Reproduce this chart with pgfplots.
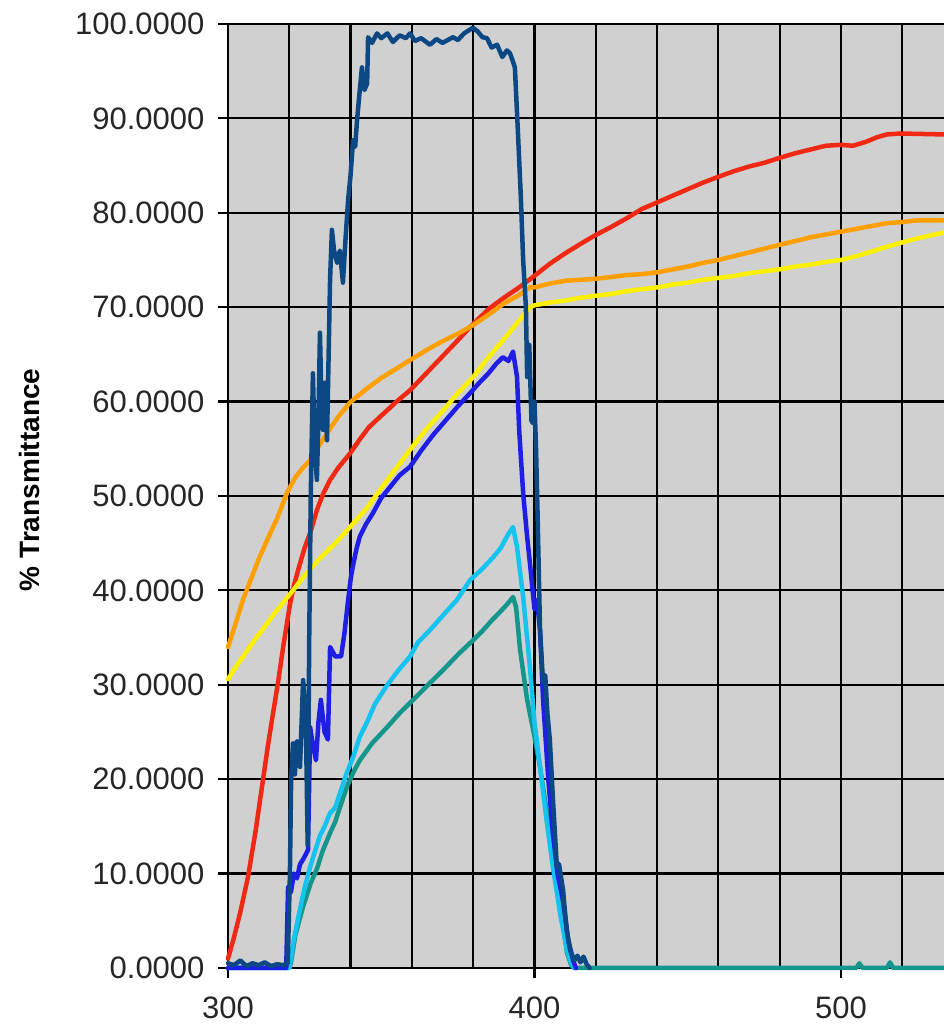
\documentclass[border=0pt]{standalone}
\usepackage{pgfplots}
\pgfplotsset{compat=1.18}
\usepackage{fontspec}
\setmainfont{Liberation Sans}
\definecolor{navy}{RGB}{12,72,132}
\definecolor{mblue}{RGB}{30,30,230}
\definecolor{cyanc}{RGB}{20,195,240}
\definecolor{tealc}{RGB}{20,150,140}
\definecolor{redc}{RGB}{240,40,20}
\definecolor{orangec}{RGB}{255,160,0}
\definecolor{yellowc}{RGB}{250,240,0}
\definecolor{bggray}{RGB}{208,208,208}
\begin{document}
\begin{tikzpicture}[x=1pt,y=1pt]
\useasboundingbox (0,0) rectangle (943,1028);
\begin{axis}[
  at={(228pt,60pt)}, anchor=south west,
  scale only axis, width=717.2pt, height=944pt,
  xmin=300, xmax=534, ymin=0, ymax=100,
  clip=false,
  axis background/.style={fill=bggray},
  axis line style={black, line width=2.2pt},
  xtick={300,400,500},
  minor xtick={320,340,360,380,420,440,460,480,520},
  ytick={0,10,...,100},
  xmajorgrids, xminorgrids, ymajorgrids,
  grid style={black, line width=2.2pt},
  minor grid style={black, line width=2.2pt},
  tick align=outside,
  major tick length=10pt, minor tick length=0pt,
  tick style={black, line width=2.2pt},
  xtick pos=bottom, ytick pos=left,
  /pgf/number format/assume math mode=true,
  tick label style={font=\fontsize{31}{31}\selectfont, text=black!85},
  yticklabel style={/pgf/number format/.cd, fixed, fixed zerofill, precision=4, 1000 sep={}, /tikz/.cd, xshift=-10pt},
  xticklabel style={/pgf/number format/.cd, fixed, 1000 sep={}, /tikz/.cd, inner sep=0pt, yshift=-19pt},
  ylabel={\% Transmittance},
  ylabel style={font=\bfseries\fontsize{28}{28}\selectfont, at={(axis description cs:-0.277,0.517)}, anchor=center, rotate=0},
  every axis plot post/.append style={line width=4.5pt, line join=round, line cap=round},
]
% red
\addplot[redc] coordinates {(300,1) (302,3.3) (304,5.9) (306.5,9.6) (309,14.5) (311.4,19.9) (313,23.5) (314.7,27) (316.3,30.2) (318,34) (320.2,38.5) (321.5,40.5) (323,42.3) (325,44.5) (326.8,46.1) (329,48.5) (331,50.2) (333.3,51.7) (336,53) (339.8,54.5) (343,56) (346,57.3) (350,58.5) (355,60) (359.4,61.2) (365,63.1) (370,64.8) (375,66.5) (379,67.9) (385,69.8) (390,71) (395,72.1) (399.5,73.2) (405,74.6) (410,75.7) (415,76.7) (419.7,77.6) (425,78.5) (430,79.4) (435,80.4) (440,81.1) (445,81.8) (450,82.5) (455,83.2) (459.9,83.8) (465,84.4) (470,84.9) (475,85.3) (479.8,85.8) (485,86.3) (490,86.7) (495,87.1) (500,87.2) (503.9,87.1) (508,87.5) (511.7,88.0) (515,88.3) (519.2,88.4) (533.5,88.3)};
% orange
\addplot[orangec] coordinates {(300,34) (302,36) (304.9,39) (307.5,41.2) (310,43.3) (313,45.5) (316,47.6) (319.2,50.3) (322,52) (324.5,53) (326.8,53.8) (330,55.5) (333,57) (336,58.4) (339.8,59.9) (345,61.3) (350,62.5) (355,63.5) (359.4,64.4) (365,65.5) (370,66.4) (375,67.2) (379,67.9) (385,69.2) (390,70.4) (395,71.3) (398.5,72.1) (400,72.1) (405,72.5) (410,72.8) (415,72.9) (419.7,73.0) (425,73.2) (430,73.4) (435,73.5) (440,73.7) (445,74) (450,74.3) (455,74.7) (459.9,75.0) (465,75.4) (470,75.8) (475,76.2) (479.8,76.6) (485,77) (490,77.4) (495,77.7) (500,78.0) (505,78.3) (510,78.6) (515,78.9) (519.2,79.0) (525,79.2) (533.5,79.2)};
% yellow
\addplot[yellowc] coordinates {(300,30.6) (303,32.1) (306,33.5) (309,34.9) (311.4,35.9) (315,37.5) (319.2,39.2) (321.2,40) (325,41.6) (330,43.4) (335,45) (339.8,46.7) (345,48.6) (350,50.8) (355,53) (359.4,54.9) (365,57.2) (370,59) (375,60.9) (380,62.6) (385,64.7) (388.7,66.1) (392,67.4) (395,68.6) (398.5,70.0) (400,70.2) (405,70.5) (410,70.7) (415,71.0) (419.7,71.2) (425,71.4) (430,71.7) (435,71.9) (440,72.1) (445,72.4) (450,72.6) (455,72.9) (459.9,73.1) (465,73.3) (470,73.6) (475,73.8) (479.8,74.0) (485,74.3) (490,74.5) (495,74.8) (500,75.0) (505,75.4) (510,75.9) (515,76.4) (519.2,76.8) (525,77.3) (533.5,77.9)};
% teal
\addplot[tealc] coordinates {(300,0) (320,0) (320.5,0.5) (322,3.5) (324.5,6.5) (327,9) (329,10.5) (331,12.5) (333.3,14.3) (335,15.5) (336.5,17) (338.8,19.2) (341,20.8) (343,22) (347,23.8) (351.9,25.5) (356,27) (361,28.6) (365.9,30.2) (370,31.5) (375,33.2) (379.9,34.7) (383,35.7) (386,36.8) (389,37.8) (391,38.5) (393,39.3) (394,38.2) (395.3,33.7) (397.6,28.4) (400,24.5) (401.8,21.3) (404,16.5) (406,12.5) (408.5,6.5) (410.6,1.6) (412,0.3) (413,0) (505,0) (506,0.5) (507,0) (515,0) (516,0.6) (517,0) (533.5,0)};
% cyan
\addplot[cyanc] coordinates {(300,0) (320,0) (320.2,0.5) (321.5,3) (323,5.5) (325,8.5) (326.8,10.7) (328.5,12.5) (330,14) (331.5,15) (333.3,16.4) (335,17) (336.5,18.5) (338.8,20.7) (341,22.5) (343,24.5) (345.3,26) (348,28) (352,30) (355.5,31.5) (359.4,33) (362,34.5) (365.9,35.8) (370,37.3) (374.7,39) (379,41.1) (383,42.3) (386.5,43.5) (389,44.5) (391.5,46) (393,46.7) (394.3,44.6) (396.3,39.3) (398.5,31.9) (400,26) (401.8,21.3) (404,15.5) (406,10.7) (408.5,5.5) (410.6,1.9) (412,0.5) (413,0)};
% blue
\addplot[mblue] coordinates {(300,0) (319,0) (319.6,8.6) (320.5,8) (321.5,10) (322.5,9.5) (323.5,11) (324.5,11.5) (326.1,12.5) (326.8,25.5) (327.5,24) (328.7,22) (329.5,26) (330.3,28.4) (331.5,25) (332.6,24.2) (333.3,34) (335,33) (336.9,33) (338,35.5) (339.2,39) (340.1,41.4) (341,43) (342,44.5) (343,45.7) (345,47) (347.3,48.2) (350,49.8) (353,51) (356,52.2) (359.4,53.1) (363,54.8) (367,56.5) (371,58) (375,59.5) (379,60.9) (382,62) (385,63) (387.5,64) (389.7,64.7) (391.5,64.3) (393,65.3) (394.3,62.6) (395,57) (396.3,50.3) (397.5,46) (398.5,42.9) (400,38) (400.8,39) (401.8,35.8) (402.8,28.4) (404.5,20) (406,14.3) (407.5,10) (409.3,7.2) (411,3) (412.6,0.8) (413.5,0)};
% navy
\addplot[navy] coordinates {(300,0.5) (302,0.3) (304,0.8) (306,0.2) (308,0.5) (310,0.3) (312,0.6) (314,0.2) (316,0.4) (318,0.3) (319.5,0.5) (320.2,10) (320.6,20) (321.2,23.8) (321.8,20.5) (322.5,24) (323.5,21.3) (324.5,30.5) (325,28) (325.5,24) (326,13) (326.5,35) (327,50) (327.7,63) (328.3,55) (329,51.7) (329.5,58) (330,67.3) (330.5,60) (331,57) (331.7,62) (332.3,55.9) (333.3,72.9) (333.9,78.2) (334.6,76) (335.6,74.7) (336.5,76) (337.5,72.6) (338.3,77) (339.2,81.4) (340,84) (340.8,87.7) (341.5,87) (342.1,89.8) (343,93) (343.7,95.4) (344.5,93) (345.4,93.7) (345.7,98.6) (347,98) (348.6,99) (350,98.5) (352,99) (353.8,98.1) (356,98.8) (358,98.5) (359.4,99) (361,98.2) (363,98.5) (365.9,97.8) (368,98.4) (370,98.0) (373.4,98.6) (375,98.3) (377,99.0) (379.9,99.6) (381.5,99.2) (383,98.6) (384.5,98.5) (386,97.5) (387.8,97.8) (389.5,96.5) (391,97.2) (392,96.9) (393,96) (393.6,95.4) (394.6,88.5) (395.5,82) (396.3,75) (397.2,70) (397.6,62.6) (398.3,66) (399,58) (399.5,57.7) (400,60) (400.5,55) (401,48.2) (401.8,35.8) (402.8,30.2) (403.5,31) (404.2,27) (405,24.2) (406,18) (407.3,10.7) (408,11) (409.3,8.3) (410.5,4) (411.6,1.9) (413,0.8) (414,1.3) (415,0.6) (416,1.2) (417,0.4) (418,0)};
\end{axis}
\end{tikzpicture}
\end{document}
